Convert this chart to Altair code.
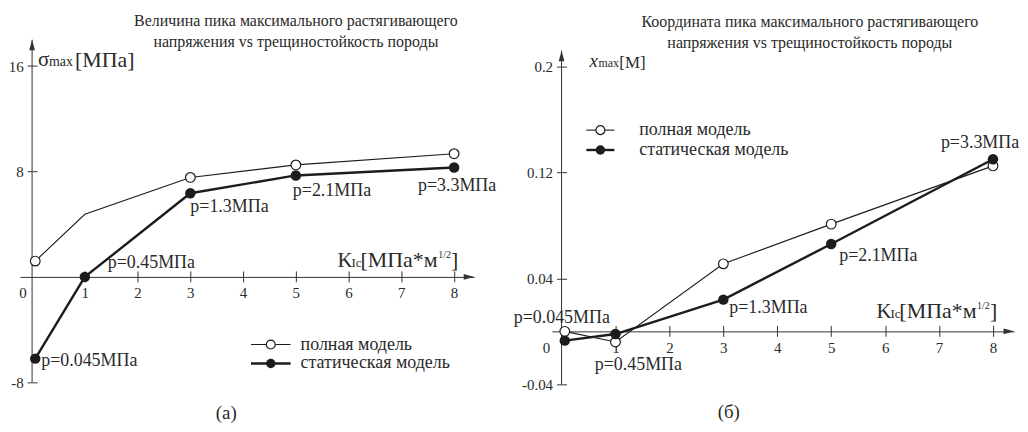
import altair as alt
import pandas as pd

FONT = "'Liberation Serif', 'Times New Roman', 'DejaVu Serif', serif"
INK = "#1c1c1c"
AXC = "#333333"
TXT = "#2a2a2a"

# ---------------- data ----------------
K = [0.06, 1, 3, 5, 8]
sigma_full = [1.2, 4.75, 7.55, 8.5, 9.35]
sigma_static = [-6.2, 0.0, 6.35, 7.7, 8.3]
xmax_full = [0.0, -0.008, 0.051, 0.081, 0.125]
xmax_static = [-0.007, -0.002, 0.024, 0.066, 0.130]
sigma_full_marked = [True, False, True, True, True]
xmax_full_marked = [True, True, True, True, True]
p_labels = ["p=0.045МПа", "p=0.45МПа", "p=1.3МПа", "p=2.1МПа", "p=3.3МПа"]
series = ["полная модель", "статическая модель"]
x_ticks = [0, 1, 2, 3, 4, 5, 6, 7, 8]
sigma_ticks = [16, 8, -8]
xmax_ticks = [0.2, 0.12, 0.04, -0.04]
titles = [
    ["Величина пика максимального растягивающего", "напряжения vs трещиностойкость породы"],
    ["Координата пика максимального растягивающего", "напряжения vs трещиностойкость породы"],
]
captions = ["(а)", "(б)"]

ARROW_RIGHT = "M0,0L-2,-0.55L-2,0.55Z"
ARROW_UP = "M0,0L-0.55,2L0.55,2Z"


def one(x, y, **extra):
    d = {"x": [x], "y": [y]}
    for k, v in extra.items():
        d[k] = [v]
    return pd.DataFrame(d)


def panel(full, static, marked, ydom, ytip, xdom, W, H, yticks, zero_off,
          label_specs, ytitle_parts, ytitle_anchor, xtitle_dy, legend, caption,
          caption_xy, title_lines, title_dx):
    xs = alt.Scale(domain=xdom, nice=False, zero=False)
    ys = alt.Scale(domain=ydom, nice=False, zero=False)
    x0 = W * (0 - xdom[0]) / (xdom[1] - xdom[0])
    y0 = H * (ydom[1] - 0) / (ydom[1] - ydom[0])

    def X(field="x", axis=None):
        return alt.X(f"{field}:Q", scale=xs, axis=axis)

    def Y(field="y", axis=None):
        return alt.Y(f"{field}:Q", scale=ys, axis=axis)

    main_x_axis = alt.Axis(
        orient="bottom", offset=-(H - y0), values=x_ticks, title=None, grid=False,
        domain=True, domainColor=AXC, domainWidth=1,
        ticks=True, tickSize=5, tickColor=AXC, tickWidth=1,
        tickOpacity={"condition": {"test": "datum.value == 0", "value": 0}, "value": 1},
        labelFont=FONT, labelFontSize=15, labelColor=TXT, labelPadding=4,
        labelAlign={"condition": {"test": "datum.value == 0", "value": "right"}, "value": "center"},
        labelOffset={"condition": {"test": "datum.value == 0", "value": zero_off}, "value": 0},
        labelFlush=False, labelOverlap=False, labelBound=False,
    )
    main_y_axis = alt.Axis(
        orient="left", offset=-x0, values=yticks, title=None, grid=False,
        domain=False, ticks=True, tickSize=5, tickColor=AXC, tickWidth=1,
        labelFont=FONT, labelFontSize=15, labelColor=TXT, labelPadding=4,
        labelExpr="toString(datum.value)", labelBaseline="middle",
        labelFlush=False, labelOverlap=False, labelBound=False,
    )
    sec_x_axis = alt.Axis(
        orient="top", offset=-y0, values=x_ticks[1:], title=None, grid=False,
        domain=False, ticks=True, tickSize=6, tickColor=AXC, tickWidth=1, labels=False,
    )
    sec_y_axis = alt.Axis(
        orient="right", offset=-(W - x0), values=yticks, title=None, grid=False,
        domain=False, ticks=True, tickSize=5, tickColor=AXC, tickWidth=1, labels=False,
    )

    df_full = pd.DataFrame({"x": K, "y": full, "m": marked})
    df_static = pd.DataFrame({"x": K, "y": static})

    layers = []
    layers.append(
        alt.Chart(df_full).mark_line(color=INK, strokeWidth=1.1)
        .encode(x=X(axis=main_x_axis), y=Y(axis=main_y_axis))
    )
    layers.append(
        alt.Chart(df_static).mark_line(color=INK, strokeWidth=2.4)
        .encode(x=X(axis=sec_x_axis), y=Y(axis=sec_y_axis))
    )
    # y axis line + arrows
    layers.append(
        alt.Chart(pd.DataFrame({"x": [0], "y": [ydom[0]], "y2": [ytip]}))
        .mark_rule(color=AXC, strokeWidth=1)
        .encode(x=X(), y=Y(), y2="y2:Q")
    )
    layers.append(
        alt.Chart(one(xdom[1], 0)).mark_point(shape=ARROW_RIGHT, filled=True, size=110,
                                             color=AXC, opacity=1)
        .encode(x=X(), y=Y())
    )
    layers.append(
        alt.Chart(one(0, ytip)).mark_point(shape=ARROW_UP, filled=True, size=110,
                                          color=AXC, opacity=1)
        .encode(x=X(), y=Y())
    )
    # markers
    layers.append(
        alt.Chart(df_full).transform_filter("datum.m")
        .mark_point(shape="circle", filled=True, fill="white", stroke=INK,
                    strokeWidth=1.2, size=95, opacity=1)
        .encode(x=X(), y=Y())
    )
    layers.append(
        alt.Chart(df_static).mark_circle(color=INK, size=110, opacity=1)
        .encode(x=X(), y=Y())
    )
    # pressure labels
    for j, (dx, dy, align) in enumerate(label_specs):
        layers.append(
            alt.Chart(one(K[j], static[j], t=p_labels[j]))
            .mark_text(font=FONT, fontSize=18, color=TXT, align=align, baseline="middle",
                       dx=dx, dy=dy)
            .encode(x=X(), y=Y(), text="t:N")
        )
    # y axis title pieces
    for text, size, dx, dy, style in ytitle_parts:
        layers.append(
            alt.Chart(one(0, ytitle_anchor, t=text))
            .mark_text(font=FONT, fontSize=size, fontStyle=style, color=TXT,
                       align="left", baseline="alphabetic", dx=dx, dy=dy)
            .encode(x=X(), y=Y(), text="t:N")
        )
    # x axis title pieces
    xparts = [("K", 21, -117, 0), ("Ic", 13, -103, 0), ("[МПа*м", 22, -94, 0),
              ("1/2", 10, -16, -9), ("]", 22, -3, 0)]
    for text, size, dx, dy in xparts:
        layers.append(
            alt.Chart(one(8, 0, t=text))
            .mark_text(font=FONT, fontSize=size, color=TXT, align="left",
                       baseline="alphabetic", dx=dx, dy=xtitle_dy + dy)
            .encode(x=X(), y=Y(), text="t:N")
        )
    # legend
    lx1, lx2, ltx, rows = legend
    for s, ry, sw, is_open in zip(series, rows, [1.1, 2.4], [True, False]):
        layers.append(
            alt.Chart(pd.DataFrame({"x": [lx1], "x2": [lx2], "y": [ry]}))
            .mark_rule(color=INK, strokeWidth=sw)
            .encode(x=X(), x2="x2:Q", y=Y())
        )
        pt = one((lx1 + lx2) / 2, ry)
        if is_open:
            layers.append(
                alt.Chart(pt).mark_point(shape="circle", filled=True, fill="white", stroke=INK,
                                         strokeWidth=1.2, size=80, opacity=1)
                .encode(x=X(), y=Y())
            )
        else:
            layers.append(
                alt.Chart(pt).mark_circle(color=INK, size=90, opacity=1).encode(x=X(), y=Y())
            )
        layers.append(
            alt.Chart(one(ltx, ry, t=s))
            .mark_text(font=FONT, fontSize=18, color=TXT, align="left", baseline="middle")
            .encode(x=X(), y=Y(), text="t:N")
        )
    # caption
    layers.append(
        alt.Chart(one(caption_xy[0], caption_xy[1], t=caption))
        .mark_text(font=FONT, fontSize=19, color=TXT, align="center", baseline="middle")
        .encode(x=X(), y=Y(), text="t:N")
    )

    return (
        alt.layer(*layers)
        .resolve_axis(x="independent", y="independent")
        .properties(
            width=W, height=H,
            title=alt.TitleParams(
                text=title_lines, font=FONT, fontSize=16, fontWeight="normal", color=TXT,
                anchor="middle", dx=title_dx, offset=-27, lineHeight=21, baseline="bottom",
            ),
        )
    )


left = panel(
    sigma_full, sigma_static, sigma_full_marked,
    ydom=[-8, 18], ytip=18, xdom=[-0.23, 8.38], W=456, H=344, yticks=sigma_ticks, zero_off=-6,
    label_specs=[(6, 2, "left"), (23, -14, "left"), (0, 14, "left"), (-3, 16, "left"), (3, 19, "center")],
    ytitle_parts=[("σ", 21, 6, 0, "normal"), ("max", 14, 17, 0, "normal"), ("[МПа]", 22, 43, 1, "normal")],
    ytitle_anchor=16, xtitle_dy=-10,
    legend=(4.15, 4.9, 5.09, [-5.13, -6.57]),
    caption=captions[0], caption_xy=(3.68, -10.3),
    title_lines=titles[0], title_dx=49,
)

right = panel(
    xmax_full, xmax_static, xmax_full_marked,
    ydom=[-0.04, 0.2203], ytip=0.212, xdom=[-0.18, 8.39], W=464, H=346, yticks=xmax_ticks, zero_off=-12,
    label_specs=[(-3, -23, "center"), (23, 31, "center"), (6, 8, "left"), (8, 12, "left"), (-13, -16, "center")],
    ytitle_parts=[("x", 19, 28, 0, "italic"), ("max", 12, 37, 0, "normal"), ("[М]", 17, 58, 1, "normal")],
    ytitle_anchor=0.2, xtitle_dy=-13,
    legend=(0.46, 0.98, 1.44, [0.152, 0.137]),
    caption=captions[1], caption_xy=(3.1, -0.061),
    title_lines=titles[1], title_dx=27,
)

chart = (
    alt.hconcat(left, right, spacing=78, bounds="flush")
    .properties(padding={"left": 0, "top": 4, "right": 0, "bottom": 0})
    .configure_view(stroke=None)
)

chart.save("out.html", embed_options={"renderer": "svg", "actions": False})
